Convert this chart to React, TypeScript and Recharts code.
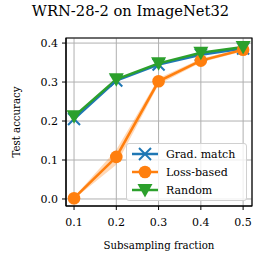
import React from "react";
import {
  ComposedChart,
  Line,
  Area,
  XAxis,
  YAxis,
  CartesianGrid,
  ReferenceArea,
  Label,
} from "recharts";

const fractions = [0.1, 0.2, 0.3, 0.4, 0.5];
const gradMatch = [0.205, 0.304, 0.345, 0.37, 0.386];
const lossBased = [0.002, 0.108, 0.302, 0.355, 0.383];
const lossLow = [0.0, 0.088, 0.294, 0.35, 0.379];
const lossHigh = [0.005, 0.126, 0.31, 0.36, 0.387];
const random = [0.212, 0.307, 0.348, 0.375, 0.39];
const yTicks = [0.0, 0.1, 0.2, 0.3, 0.4];

const data = fractions.map((f, i) => ({
  x: f,
  grad: gradMatch[i],
  loss: lossBased[i],
  band: [lossLow[i], lossHigh[i]],
  random: random[i],
}));

const BLUE = "#1f77b4";
const ORANGE = "#ff7f0e";
const GREEN = "#2ca02c";
const FONT = "'DejaVu Serif', serif";

const XMark = (props: any) => {
  const { cx, cy } = props;
  const s = 6;
  return (
    <g key={`x-${cx}`} stroke={BLUE} strokeWidth={2}>
      <line x1={cx - s} y1={cy - s} x2={cx + s} y2={cy + s} />
      <line x1={cx - s} y1={cy + s} x2={cx + s} y2={cy - s} />
    </g>
  );
};

const TriMark = (props: any) => {
  const { cx, cy } = props;
  const s = 7.5;
  return (
    <polygon
      key={`t-${cx}`}
      points={`${cx - s},${cy - s * 0.8} ${cx + s},${cy - s * 0.8} ${cx},${cy + s}`}
      fill={GREEN}
    />
  );
};

const legendItems = [
  { name: "Grad. match", color: BLUE, kind: "x" },
  { name: "Loss-based", color: ORANGE, kind: "o" },
  { name: "Random", color: GREEN, kind: "v" },
];

const LegendBox = () => (
  <div
    style={{
      position: "absolute",
      left: 126,
      top: 143,
      border: "1px solid #d0d0d0",
      borderRadius: 3,
      background: "rgba(255,255,255,0.8)",
      padding: "1px 3px",
      fontFamily: FONT,
      fontSize: 11,
      width: 113,
      lineHeight: 1,
    }}
  >
    {legendItems.map((it) => (
      <div key={it.name} style={{ display: "flex", alignItems: "center", height: 18 }}>
        <svg width={30} height={16}>
          <line x1={2} y1={8} x2={28} y2={8} stroke={it.color} strokeWidth={2.5} />
          {it.kind === "x" && (
            <g stroke={it.color} strokeWidth={2}>
              <line x1={9} y1={2} x2={21} y2={14} />
              <line x1={9} y1={14} x2={21} y2={2} />
            </g>
          )}
          {it.kind === "o" && <circle cx={15} cy={8} r={6.3} fill={it.color} />}
          {it.kind === "v" && (
            <polygon points={`7.5,2 22.5,2 15,15.5`} fill={it.color} />
          )}
        </svg>
        <span style={{ marginLeft: 6 }}>{it.name}</span>
      </div>
    ))}
  </div>
);

export default function App() {
  return (
    <div
      style={{
        position: "relative",
        width: 265,
        height: 265,
        background: "#fff",
        fontFamily: FONT,
      }}
    >
      <style>{`body{margin:0} svg text{font-family:'DejaVu Serif',serif !important;}`}</style>
      <div
        style={{
          position: "absolute",
          top: 2,
          left: 0,
          width: 261,
          textAlign: "center",
          fontSize: 14.7,
        }}
      >
        WRN-28-2 on ImageNet32
      </div>
      <ComposedChart
        width={265}
        height={265}
        data={data}
        margin={{ top: 38, right: 13, bottom: 0, left: 0 }}
      >
        <CartesianGrid stroke="#b0b0b0" strokeWidth={1} />
        <XAxis
          dataKey="x"
          type="number"
          domain={[0.081, 0.521]}
          ticks={fractions}
          tickFormatter={(v: number) => v.toFixed(1)}
          height={59}
          tickSize={4}
          tickMargin={8}
          stroke="#000"
          tick={{ fill: "#000", fontSize: 11 }}
          allowDataOverflow
        >
          <Label
            value="Subsampling fraction"
            position="insideBottom"
            offset={16}
            style={{ fill: "#000", fontSize: 10.2 }}
          />
        </XAxis>
        <YAxis
          type="number"
          domain={[-0.018, 0.413]}
          ticks={yTicks}
          tickFormatter={(v: number) => v.toFixed(1)}
          width={66}
          tickSize={4}
          tickMargin={4}
          stroke="#000"
          tick={{ fill: "#000", fontSize: 11 }}
          allowDataOverflow
        >
          <Label
            value="Test accuracy"
            angle={-90}
            position="insideLeft"
            offset={16}
            style={{ fill: "#000", fontSize: 10.2, textAnchor: "middle" }}
          />
        </YAxis>
        <Area
          dataKey="band"
          stroke="none"
          fill={ORANGE}
          fillOpacity={0.3}
          isAnimationActive={false}
          legendType="none"
        />
        <Line
          dataKey="grad"
          name="Grad. match"
          stroke={BLUE}
          strokeWidth={2.5}
          dot={XMark}
          activeDot={false}
          isAnimationActive={false}
        />
        <Line
          dataKey="loss"
          name="Loss-based"
          stroke={ORANGE}
          strokeWidth={2.5}
          dot={{ r: 6.3, fill: ORANGE, stroke: "none" }}
          activeDot={false}
          isAnimationActive={false}
        />
        <Line
          dataKey="random"
          name="Random"
          stroke={GREEN}
          strokeWidth={2.5}
          dot={TriMark}
          activeDot={false}
          isAnimationActive={false}
        />
        <ReferenceArea
          x1={0.081}
          x2={0.521}
          y1={-0.018}
          y2={0.413}
          fill="none"
          stroke="#000"
          strokeWidth={1.2}
          ifOverflow="visible"
        />
      </ComposedChart>
      <LegendBox />
    </div>
  );
}
